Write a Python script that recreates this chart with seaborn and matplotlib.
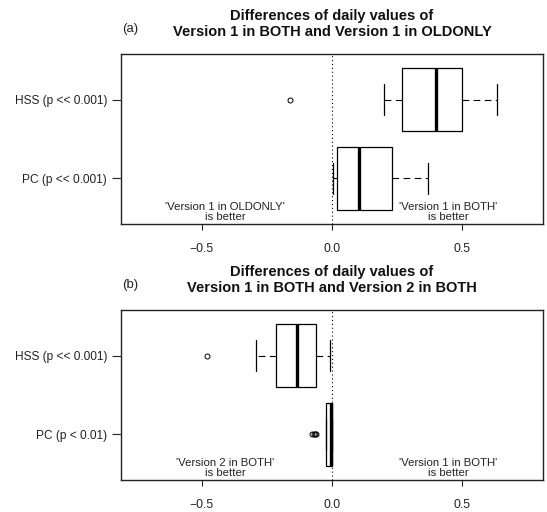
import numpy as np
import pandas as pd
import matplotlib
matplotlib.use("Agg")
import matplotlib.pyplot as plt
import matplotlib.transforms as mtransforms
import seaborn as sns

sns.set_theme(style="white")
plt.rcParams["font.family"] = ["Liberation Sans", "DejaVu Sans"]

# ---------------- data ----------------
a_categories = ["HSS (p << 0.001)", "PC (p << 0.001)"]
a_lower = [0.20, 0.004]
a_q1 = [0.27, 0.02]
a_median = [0.40, 0.105]
a_q3 = [0.50, 0.23]
a_upper = [0.635, 0.37]
a_outliers = [[-0.16], []]

b_categories = ["HSS (p << 0.001)", "PC (p < 0.01)"]
b_lower = [-0.29, -0.024]
b_q1 = [-0.215, -0.022]
b_median = [-0.135, -0.004]
b_q3 = [-0.062, 0.0]
b_upper = [-0.008, 0.0]
b_outliers = [[-0.48], [-0.075, -0.07, -0.065, -0.06]]

x_ticks = [-0.5, 0.0, 0.5]
x_ticklabels = ["\u22120.5", "0.0", "0.5"]

titles = ["Differences of daily values of\nVersion 1 in BOTH and Version 1 in OLDONLY",
          "Differences of daily values of\nVersion 1 in BOTH and Version 2 in BOTH"]
panel_labels = ["(a)", "(b)"]
left_notes = ["'Version 1 in OLDONLY'\nis better", "'Version 2 in BOTH'\nis better"]
right_notes = ["'Version 1 in BOTH'\nis better", "'Version 1 in BOTH'\nis better"]


def sample_from_summary(cats, lo, q1, med, q3, hi, outs):
    rows = []
    for i, c in enumerate(cats):
        vals = list(outs[i]) + [lo[i]] + [q1[i]] * 20 + [med[i]] * 20 + [q3[i]] * 20 + [hi[i]]
        rows += [(c, v) for v in vals]
    return pd.DataFrame(rows, columns=["metric", "diff"])


dfs = [
    sample_from_summary(a_categories, a_lower, a_q1, a_median, a_q3, a_upper, a_outliers),
    sample_from_summary(b_categories, b_lower, b_q1, b_median, b_q3, b_upper, b_outliers),
]
cats = [a_categories, b_categories]

W, H = 547, 512
fig = plt.figure(figsize=(W / 100, H / 100), dpi=100)

axes_px = [(121, 54, 543, 224), (121, 310, 543, 480)]

for k in range(2):
    l, t, r, b = axes_px[k]
    ax = fig.add_axes([l / W, 1 - b / H, (r - l) / W, (b - t) / H])
    ax.axvline(0, color="black", lw=0.8, ls=(0, (1, 2.5)), zorder=0.5)
    sns.boxplot(
        data=dfs[k], x="diff", y="metric", order=cats[k], orient="h",
        width=0.8, color="white", saturation=1, linecolor="black", linewidth=0.9,
        whis=1.5, ax=ax,
        boxprops=dict(facecolor="white", edgecolor="black", linewidth=0.9),
        medianprops=dict(color="black", linewidth=2.4),
        whiskerprops=dict(color="black", linewidth=0.8, linestyle=(0, (6, 4))),
        capprops=dict(color="black", linewidth=0.9),
        flierprops=dict(marker="o", markerfacecolor="none", markeredgecolor="black",
                        markersize=3.6, markeredgewidth=0.7),
    )
    ax.set_xlim(-0.81, 0.81)
    ax.set_ylim(1.58, -0.58)
    ax.set_xticks(x_ticks)
    ax.set_xticklabels(x_ticklabels)
    ax.set_xlabel("")
    ax.set_ylabel("")
    for s in ax.spines.values():
        s.set_visible(True)
        s.set_color("#222222")
        s.set_linewidth(1.0)
    ax.tick_params(axis="x", direction="out", length=4.5, width=0.8, pad=9,
                   labelsize=8.7, colors="#222222", bottom=True)
    ax.tick_params(axis="y", direction="out", length=6.5, width=0.8, pad=3.5,
                   labelsize=8.6, colors="#222222", left=True)
    ax.grid(False)

    trans = mtransforms.blended_transform_factory(ax.transData, ax.transAxes)
    ax.text(-0.41, 0.07, left_notes[k], transform=trans, ha="center", va="center",
            fontsize=8.2, color="#222222", linespacing=1.1)
    ax.text(0.445, 0.07, right_notes[k], transform=trans, ha="center", va="center",
            fontsize=8.2, color="#222222", linespacing=1.1)

    fig.text(332 / W, 1 - (t - 30) / H, titles[k], ha="center", va="center",
             fontsize=10.5, fontweight="bold", color="#111111", linespacing=1.25)
    fig.text(130 / W, 1 - (t - 25) / H, panel_labels[k], ha="center", va="center",
             fontsize=9.5, color="#222222")

fig.savefig("out.png", dpi=100)
